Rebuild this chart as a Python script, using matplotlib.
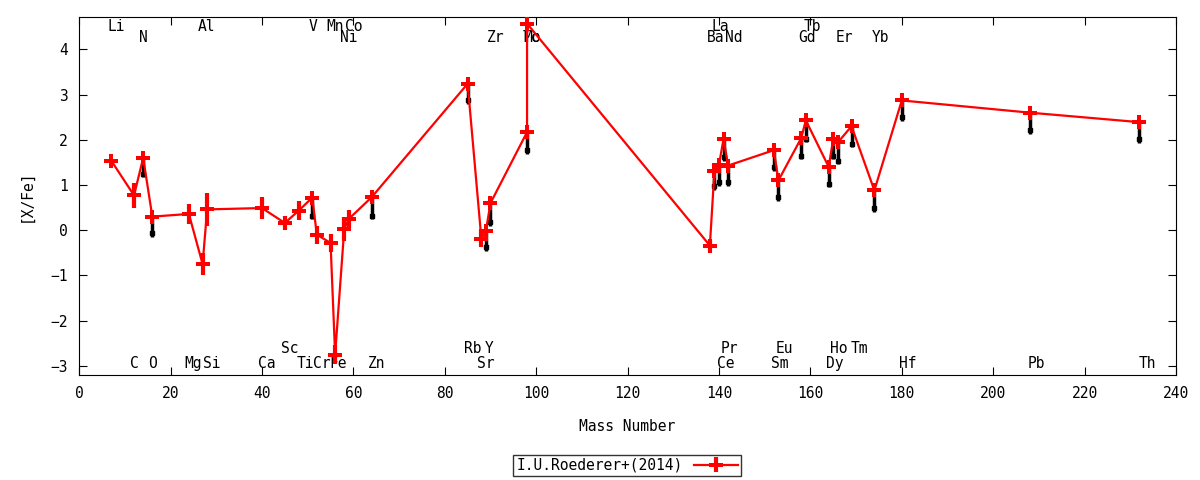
import matplotlib
matplotlib.use("Agg")
import matplotlib.pyplot as plt
import numpy as np

plt.rcParams['font.family'] = ['DejaVu Sans Mono']
plt.rcParams['font.size'] = 10

# Roederer+(2014) abundances, in plotting order
elements = ["Li", "C", "N", "O", "Mg", "Al", "Si", "Ca", "Sc", "Ti", "V", "Cr", "Mn", "Fe",
            "Ni", "Co", "Zn", "Rb", "Sr", "Y", "Zr", "Mo", "Tc", "Ba", "La", "Ce", "Pr", "Nd",
            "Sm", "Eu", "Gd", "Tb", "Dy", "Ho", "Er", "Tm", "Yb", "Hf", "Pb", "Th"]
mass = [7, 12, 14, 16, 24, 27, 28, 40, 45, 48, 51, 52, 55, 56,
        58, 59, 64, 85, 88, 89, 90, 98, 98, 138, 139, 140, 141, 142,
        152, 153, 158, 159, 164, 165, 166, 169, 174, 180, 208, 232]
xfe = [1.54, 0.77, 1.60, 0.30, 0.36, -0.75, 0.46, 0.49, 0.16, 0.43, 0.72, -0.10, -0.28, -2.75,
       0.03, 0.25, 0.73, 3.24, -0.19, -0.01, 0.60, 2.17, 4.57, -0.34, 1.31, 1.45, 2.02, 1.43,
       1.77, 1.10, 2.04, 2.43, 1.40, 2.02, 1.94, 2.30, 0.88, 2.87, 2.60, 2.39]
err = [0.03, 0.27, 0.03, 0.03, 0.22, 0.25, 0.37, 0.24, 0.16, 0.21, 0.03, 0.20, 0.20, 0.20,
       0.27, 0.20, 0.03, 0.03, 0.19, 0.03, 0.03, 0.03, 0.03, 0.13, 0.03, 0.03, 0.03, 0.03,
       0.03, 0.03, 0.03, 0.03, 0.03, 0.03, 0.03, 0.03, 0.03, 0.03, 0.03, 0.03]

# black lower points (nan = none)
nan = np.nan
black = [nan, nan, 1.25, -0.07, nan, nan, nan, nan, nan, nan, 0.32, nan, nan, nan,
         nan, nan, 0.32, 2.87, nan, -0.38, 0.18, 1.77, nan, nan, 0.97, 1.06, 1.62, 1.06,
         1.40, 0.73, 1.65, 2.02, 1.03, 1.65, 1.54, 1.91, 0.49, 2.50, 2.21, 2.01]
black_lo = 0.08

# element labels: (name, x position) per row
top1 = [("Li", 8.0), ("Al", 27.9), ("V", 51.1), ("Mn", 56.0), ("Co", 60.1), ("La", 140.3), ("Tb", 160.5)]
top2 = [("N", 14.0), ("Ni", 58.9), ("Zr", 91.2), ("Mo", 99.0), ("Tc", 99.0), ("Ba", 139.2), ("Nd", 143.2),
        ("Gd", 159.3), ("Er", 167.4), ("Yb", 175.3)]
bot1 = [("Sc", 46.0), ("Rb", 86.2), ("Y", 89.6), ("Pr", 142.2), ("Eu", 154.3), ("Ho", 166.2), ("Tm", 170.7)]
bot2 = [("C", 12.0), ("O", 16.0), ("Mg", 24.9), ("Si", 29.0), ("Ca", 41.0), ("Ti", 49.4), ("Cr", 53.0),
        ("Fe", 56.7), ("Zn", 65.1), ("Sr", 89.0), ("Ce", 141.4), ("Sm", 153.4), ("Dy", 165.3),
        ("Hf", 181.2), ("Pb", 209.4), ("Th", 233.7)]

mass = np.array(mass, dtype=float)
xfe = np.array(xfe)
black = np.array(black)

fig = plt.figure(figsize=(12, 4.8), dpi=100)
ax = fig.add_axes([0.066, 0.219, 0.914, 0.746])

# black marks underneath
ok = ~np.isnan(black)
ax.errorbar(mass[ok], black[ok], yerr=[np.full(ok.sum(), black_lo), xfe[ok] - black[ok]],
            fmt='s', color='black', ms=3, elinewidth=2.5, capsize=0, zorder=2)

ax.errorbar(mass, xfe, yerr=err, fmt='-', color='red', lw=1.6, marker='P', ms=10,
            markeredgewidth=0, elinewidth=3, capsize=6, capthick=3, zorder=3,
            label="I.U.Roederer+(2014)")

for rows, yy in ((top1, 0.972), (top2, 0.941), (bot1, 0.073), (bot2, 0.031)):
    for name, xpos in rows:
        ax.text(xpos, yy, name, transform=ax.get_xaxis_transform(), ha='center', va='center',
                fontsize=10.5, zorder=1)

ax.set_xlim(0, 240)
ax.set_ylim(-3.2, 4.72)
ax.set_xticks(np.arange(0, 241, 20))
ax.set_yticks(np.arange(-3, 5, 1))
ax.tick_params(direction='in', top=True, right=True, length=6, labelsize=10.5, pad=8)
ax.set_xlabel("Mass Number", fontsize=10.5, labelpad=13)
ax.set_ylabel("[X/Fe]", fontsize=10.5, labelpad=12)

leg = fig.legend(loc='center', bbox_to_anchor=(0.5225, 0.031), frameon=True, fancybox=False,
                 edgecolor='black', fontsize=10.5, markerfirst=False, handlelength=3,
                 borderpad=0.2)
leg.get_frame().set_linewidth(1)

fig.savefig("out.png", dpi=100)
